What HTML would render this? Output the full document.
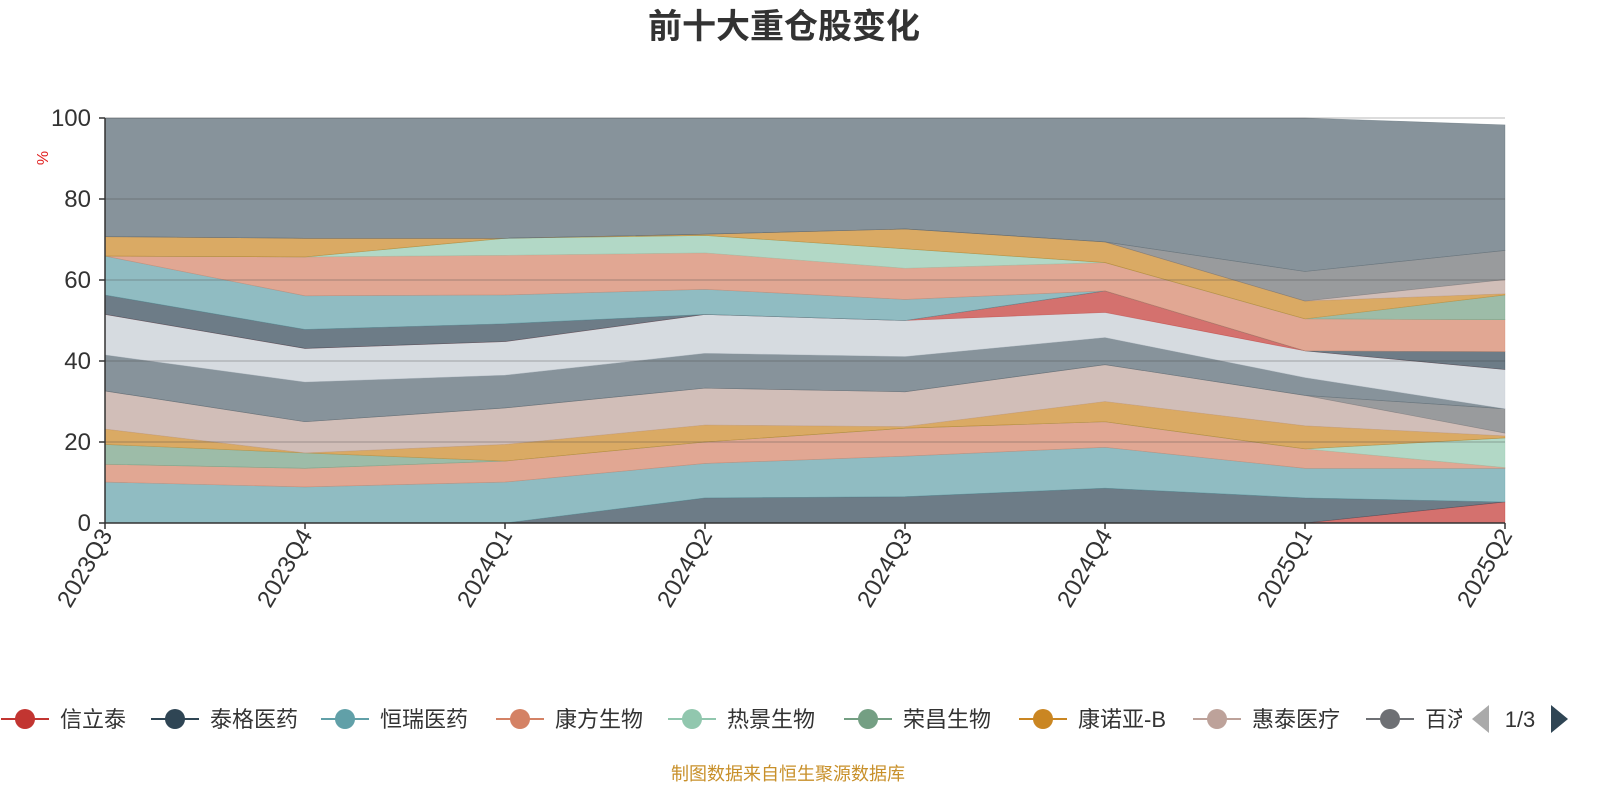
<!DOCTYPE html>
<html><head><meta charset="utf-8"><style>
body{margin:0;background:#fff;width:1600px;height:800px;overflow:hidden;font-family:"Liberation Sans","Noto Sans CJK SC",sans-serif}
svg{display:block}
</style></head><body>
<svg id="chart" width="1600" height="800" xmlns="http://www.w3.org/2000/svg" font-family="Liberation Sans, Noto Sans CJK SC, sans-serif">
<text x="784" y="38" text-anchor="middle" font-size="34" font-weight="bold" fill="#333">前十大重仓股变化</text>
<text x="48" y="158" font-size="16" fill="#e02020" text-anchor="middle" transform="rotate(-90 48 158)">%</text>
<g id="areas"></g>
<g id="grid"></g>
<g id="axes"></g>
<g id="legend"></g>
<text x="788" y="780" text-anchor="middle" font-size="18" fill="#c8902a">制图数据来自恒生聚源数据库</text>
</svg>
<script>
const categories=["2023Q3","2023Q4","2024Q1","2024Q2","2024Q3","2024Q4","2025Q1","2025Q2"];
const seriesNames=["信立泰","泰格医药","恒瑞医药","康方生物","热景生物","荣昌生物","康诺亚-B","惠泰医疗","百济神州","迈瑞医疗","药明康德","信立泰B","联影医疗","爱尔眼科","华东医药","科伦药业","智飞生物","百利天恒","复星医药","信达生物","其他"];
const s0=[0,0,0,0,0,0,0,5.2];
const s1=[0,0,0,6.2,6.5,8.6,6.2,0];
const s2=[10.1,8.9,10.1,8.5,10.0,10.1,7.3,8.3];
const s3=[4.4,4.6,5.2,5.3,6.9,6.3,4.8,0.2];
const s4=[0,0,0,0,0,0,0,7.3];
const s5=[4.9,3.8,0,0,0,0,0,0];
const s6=[3.8,0,4.1,4.2,0.4,5.0,5.7,0.5];
const s7=[9.4,7.7,9.0,9.1,8.6,9.1,7.5,0.7];
const s8=[0,0,0,0,0,0,0,6.0];
const s9=[8.9,9.8,8.1,8.6,8.7,6.7,4.4,0];
const s10=[10.0,8.3,8.3,9.6,8.9,6.2,6.6,9.7];
const s11=[0,0,0,0,0,5.3,0,0];
const s12=[4.8,4.7,4.4,0,0,0,0,4.4];
const s13=[9.6,8.3,7.1,6.2,5.2,0,0,0];
const s14=[0,9.6,9.8,9.0,7.7,7.0,7.9,7.9];
const s15=[0,0,4.2,4.3,4.8,0,0,0];
const s16=[0,0,0,0,0,0,0,6.1];
const s17=[4.8,4.6,0,0.3,4.9,5.1,4.4,0.3];
const s18=[0,0,0,0,0,0,0,3.5];
const s19=[0,0,0,0,0,0,7.3,7.2];
const s20=[29.3,29.7,29.7,28.7,27.4,30.6,37.9,31.0];
const yTicks=[0,20,40,60,80,100];
const seriesValues=[s0,s1,s2,s3,s4,s5,s6,s7,s8,s9,s10,s11,s12,s13,s14,s15,s16,s17,s18,s19,s20];
const palette=['#c23531','#2f4554','#61a0a8','#d48265','#91c7ae','#749f83','#ca8622','#bda29a','#6e7074','#546570','#c4ccd3'];
const NS='http://www.w3.org/2000/svg';
const X0=105,X1=1505,Y0=523,Y1=118;
const xScale=i=>X0+i*(X1-X0)/(categories.length-1);
const yScale=v=>Y0-(v/100)*(Y0-Y1);
function mk(tag,attrs,parent){const e=document.createElementNS(NS,tag);for(const k in attrs)e.setAttribute(k,attrs[k]);parent.appendChild(e);return e;}
const areas=document.getElementById('areas');
let base=categories.map(()=>0);
seriesValues.forEach((vals,si)=>{
  const top=base.map((b,i)=>b+vals[i]);
  let pts=top.map((t,i)=>xScale(i)+','+yScale(t));
  for(let i=categories.length-1;i>=0;i--)pts.push(xScale(i)+','+yScale(base[i]));
  const c=palette[si%palette.length];
  const p=mk('polygon',{points:pts.join(' '),fill:c,'fill-opacity':0.7,stroke:c,'stroke-opacity':0.5,'stroke-width':0.6},areas);
  
  
  base=top;
});
const grid=document.getElementById('grid');
yTicks.forEach(t=>{
  if(t===0)return;
  const l=mk('line',{x1:X0,x2:X1,y1:yScale(t),y2:yScale(t),stroke:'#444','stroke-opacity':0.25,'stroke-width':1.5},grid);
  
  
});
const axes=document.getElementById('axes');
mk('line',{x1:X0,x2:X0,y1:Y1,y2:Y0,stroke:'#333','stroke-width':1.5},axes);
mk('line',{x1:X0,x2:X1,y1:Y0,y2:Y0,stroke:'#333','stroke-width':1.5},axes);
yTicks.forEach(t=>{
  mk('line',{x1:X0-6,x2:X0,y1:yScale(t),y2:yScale(t),stroke:'#333','stroke-width':1.5},axes);
  const tx=mk('text',{x:X0-14,y:yScale(t)+8,'text-anchor':'end','font-size':24,fill:'#333'},axes);
  tx.textContent=t;
  
  
});
categories.forEach((c,i)=>{
  const x=xScale(i);
  mk('line',{x1:x,x2:x,y1:Y0,y2:Y0+6,stroke:'#333','stroke-width':1.5},axes);
  const tx=mk('text',{x:x+8,y:Y0+12,'text-anchor':'end','font-size':24,fill:'#333',transform:'rotate(-60 '+(x+8)+' '+(Y0+12)+')'},axes);
  tx.textContent=c;
  
  
});
const legend=document.getElementById('legend');
const lx=[25,175,345,520,692,868,1043,1217,1390];
const clip=mk('clipPath',{id:'lgclip'},legend);
mk('rect',{x:0,y:695,width:1462,height:50},clip);
const lg=mk('g',{'clip-path':'url(#lgclip)'},legend);
lx.forEach((x,i)=>{
  const g=mk('g',{},lg);
  
  
  const c=palette[i%palette.length];
  mk('line',{x1:x-24,x2:x+24,y1:719,y2:719,stroke:c,'stroke-width':2},g);
  mk('circle',{cx:x,cy:719,r:10,fill:c},g);
  const t=mk('text',{x:x+35,y:727,'font-size':22,fill:'#333'},g);
  t.textContent=seriesNames[i];
});
const prev=mk('polygon',{points:'1472,719 1489,705 1489,733',fill:'#aaa'},legend);


const pg=mk('text',{x:1520,y:727,'text-anchor':'middle','font-size':22,fill:'#333'},legend);
pg.textContent='1/3';


const next=mk('polygon',{points:'1551,705 1568,719 1551,733',fill:'#2f4554'},legend);


</script>
</body></html>
